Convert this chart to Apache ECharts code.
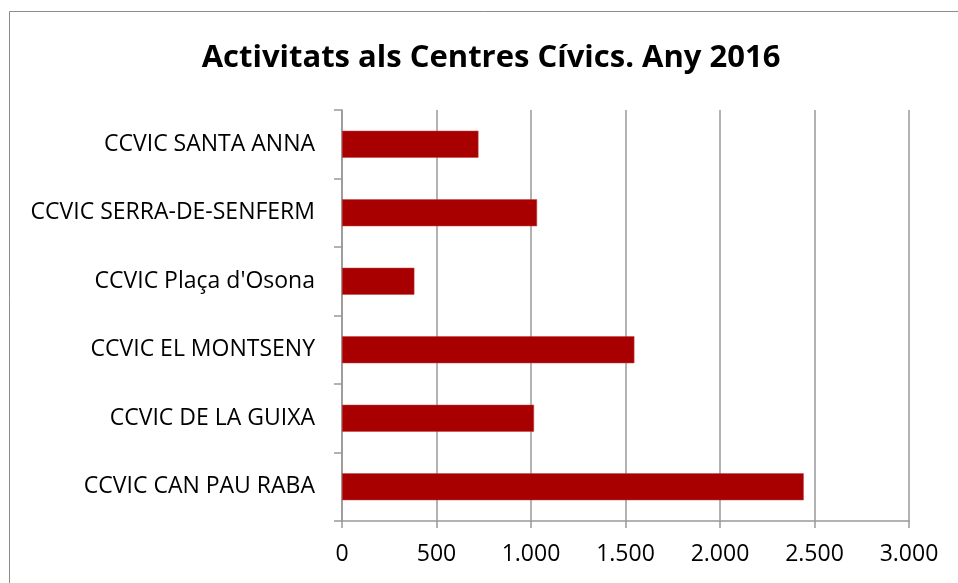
<!DOCTYPE html>
<html>
<head>
<meta charset="utf-8">
<script src="https://cdn.jsdelivr.net/npm/echarts@6/dist/echarts.min.js"></script>
<style>
  html, body { margin: 0; padding: 0; background: #fff; }
  #chart { width: 958px; height: 583px; }
</style>
</head>
<body>
<div id="chart"></div>
<script>
var centres = [
  "CCVIC CAN PAU RABA",
  "CCVIC DE LA GUIXA",
  "CCVIC EL MONTSENY",
  "CCVIC Plaça d'Osona",
  "CCVIC SERRA-DE-SENFERM",
  "CCVIC SANTA ANNA"
];
var activitats = [2443, 1016, 1547, 383, 1032, 722];

var fontName = "Open Sans";

var myChart = echarts.init(document.getElementById("chart"));

var option = {
  animation: false,
  title: {
    text: "Activitats als Centres Cívics. Any 2016",
    left: 486,
    top: 38,
    textAlign: "center",
    textStyle: { fontFamily: fontName, fontSize: 31, fontWeight: "bold", color: "#000" }
  },
  graphic: [
    {
      type: "rect",
      shape: { x: 9.5, y: 11.5, width: 960, height: 600 },
      style: { fill: "none", stroke: "#8c8c8c", lineWidth: 1 },
      silent: true
    }
  ],
  grid: { left: 342, right: 49, top: 110, bottom: 62 },
  xAxis: {
    type: "value",
    min: 0,
    max: 3000,
    interval: 500,
    axisLine: { show: true, lineStyle: { color: "#999", width: 1.5 } },
    axisTick: { show: true, length: 7, lineStyle: { color: "#999", width: 1.5 } },
    splitLine: { show: true, lineStyle: { color: "#999", width: 1.5 } },
    axisLabel: {
      margin: 22,
      fontFamily: fontName,
      fontSize: 23,
      color: "#000",
      formatter: function (v) {
        return String(v).replace(/\B(?=(\d{3})+(?!\d))/g, ".");
      }
    }
  },
  yAxis: {
    type: "category",
    data: centres,
    axisLine: { show: true, lineStyle: { color: "#999", width: 1.5 } },
    axisTick: { show: true, length: 8, lineStyle: { color: "#999", width: 1.5 } },
    axisLabel: { margin: 27, fontFamily: fontName, fontSize: 23, color: "#000" }
  },
  series: [
    {
      name: "Activitats",
      type: "bar",
      data: activitats,
      barWidth: 27,
      itemStyle: { color: "#a80000", borderColor: "#c04040", borderWidth: 0.5 }
    }
  ]
};

myChart.setOption(option);
</script>
</body>
</html>
